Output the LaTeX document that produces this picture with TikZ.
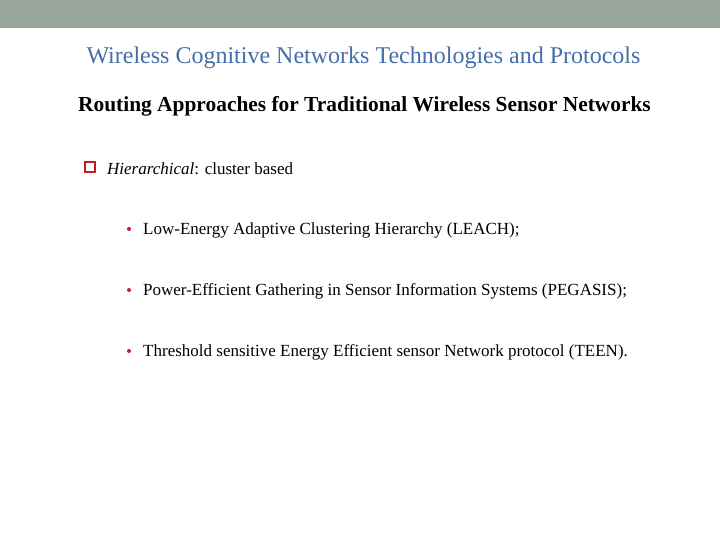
\documentclass[tikz,border=0pt]{standalone}
\usepackage{fontspec}
\setmainfont{Liberation Serif}
\definecolor{barc}{RGB}{152,166,156}
\definecolor{titc}{RGB}{70,110,170}
\definecolor{redc}{RGB}{192,30,40}
\begin{document}
\begin{tikzpicture}[x=1pt,y=-1pt,
  txt/.style={anchor=west,inner sep=0pt,font=\fontsize{17}{20}\selectfont},
  dot/.style={circle,fill=redc,inner sep=0pt,minimum size=4pt}]
\useasboundingbox (0,0) rectangle (720,540);
\fill[white] (0,0) rectangle (720,540);
\fill[barc] (0,0) rectangle (720,28);
\node[inner sep=0pt,text=titc,font=\fontsize{24}{28}\selectfont] (title) at (363.5,58) {Wireless Cognitive Networks Technologies and Protocols};
\node[inner sep=0pt,font=\fontsize{21.4}{24}\selectfont\bfseries] (sub) at (364.5,106) {Routing Approaches for Traditional Wireless Sensor Networks};
\node[draw=redc,line width=1.8pt,minimum size=10pt,inner sep=0pt] (box) at (90,167) {};
\node[txt] (h) at (107,169) {\textit{Hierarchical}: cluster based};
\node[dot] (b1) at (129,229) {};
\node[txt] (t1) at (143,230) {Low-Energy Adaptive Clustering Hierarchy (LEACH);};
\node[dot] (b2) at (129,290) {};
\node[txt] (t2) at (143,291) {Power-Efficient Gathering in Sensor Information Systems (PEGASIS);};
\node[dot] (b3) at (129,351) {};
\node[txt] (t3) at (143,352) {Threshold sensitive Energy Efficient sensor Network protocol (TEEN).};
\end{tikzpicture}
\end{document}
